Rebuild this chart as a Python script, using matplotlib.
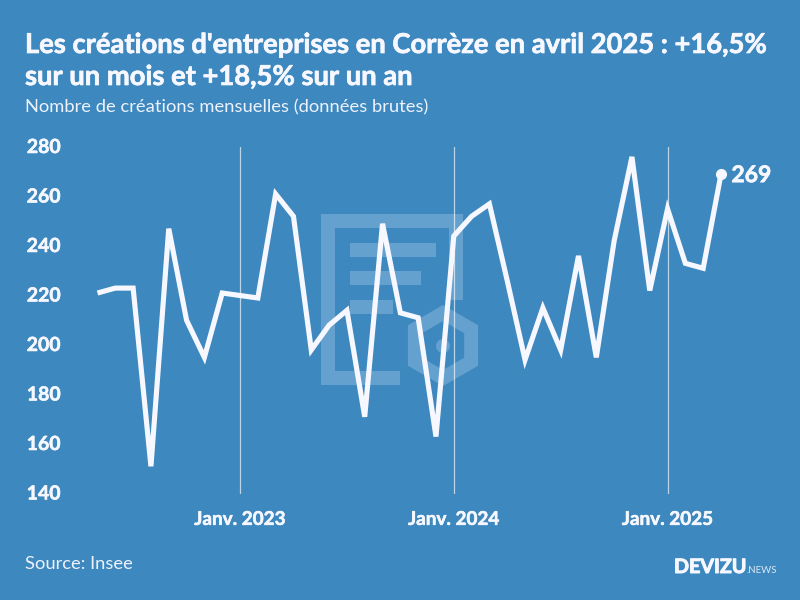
"""Créations d'entreprises en Corrèze, mai 2022 - avril 2025."""

import matplotlib

matplotlib.use("Agg")
import matplotlib.patheffects as pe
import matplotlib.pyplot as plt
from matplotlib.patches import Circle, Polygon, Rectangle
from matplotlib.transforms import ScaledTranslation
import numpy as np

BG = "#3D88BF"
WHITE = "#F7F8FF"
MARK = "#65A1CF"

plt.rcParams["font.family"] = ["Lato", "DejaVu Sans"]

# one value a month, May 2022 to April 2025
months = list(range(36))
creations = [221, 223, 223, 151, 247, 210, 195, 221, 220, 219, 261, 252,
             198, 208, 214, 171, 249, 213, 211, 163, 244, 252, 257, 226,
             194, 215, 198, 236, 195, 242, 276, 222, 255, 233, 231, 269]
jan_months = [8, 20, 32]
jan_labels = ["Janv. 2023", "Janv. 2024", "Janv. 2025"]
y_ticks = [140, 160, 180, 200, 220, 240, 260, 280]

W, H = 800, 600


def heavy(txt, lw=0.5):
    # Lato has no black weight here, so thicken the bold with a thin stroke
    txt.set_path_effects([pe.withStroke(linewidth=lw, foreground=WHITE)])
    return txt


def draw_watermark(bg):
    # faded logo behind the line, pixel coordinates
    for x, y, w, h in [(321, 214, 14, 171), (321, 214, 142, 14), (449, 214, 14, 86),
                       (321, 371, 79, 14), (350, 243, 86, 14), (350, 271, 71, 14),
                       (350, 300, 43, 14)]:
        bg.add_patch(Rectangle((x, y), w, h, fc=MARK, ec="none"))
    ang = np.radians(np.arange(30, 390, 60))
    hexa = np.column_stack([443 + 32.5 * np.cos(ang), 345.5 + 32.5 * np.sin(ang)])
    bg.add_patch(Polygon(hexa, closed=True, fc="none", ec=MARK, lw=10, joinstyle="miter"))
    bg.add_patch(Circle((443, 346), 7, fc=MARK, ec="none"))


def main():
    fig = plt.figure(figsize=(W / 100, H / 100), dpi=100, facecolor=BG)

    bg = fig.add_axes([0, 0, 1, 1])
    bg.set_xlim(0, W)
    bg.set_ylim(H, 0)
    bg.axis("off")
    draw_watermark(bg)

    left, right, top, bottom = 97.5, 721, 147, 493.5
    ax = fig.add_axes([left / W, 1 - bottom / H, (right - left) / W, (bottom - top) / H])
    ax.patch.set_visible(False)
    ax.set_xlim(0, 35)
    ax.set_ylim(140, 280)
    for s in ax.spines.values():
        s.set_visible(False)

    for m in jan_months:
        ax.axvline(m, color="white", lw=0.9, alpha=0.65, zorder=1)
    ax.plot(months, creations, color=WHITE, lw=3.7, solid_joinstyle="miter",
            solid_capstyle="butt", clip_on=False, zorder=3)
    ax.plot(months[-1], creations[-1], "o", ms=7, color=WHITE, clip_on=False, zorder=4)
    heavy(ax.annotate(str(creations[-1]), (months[-1], creations[-1]), xytext=(7.5, -1),
                      textcoords="offset points", va="center", ha="left", color=WHITE,
                      fontsize=16.5, fontweight="bold", annotation_clip=False))

    ax.set_yticks(y_ticks)
    ax.set_xticks(jan_months, jan_labels)
    ax.tick_params(axis="y", length=0, pad=26.5, labelsize=14, labelcolor=WHITE)
    ax.tick_params(axis="x", length=0, pad=12.5, labelsize=13.6, labelcolor=WHITE)
    up = ScaledTranslation(0, 1 / 100, fig.dpi_scale_trans)
    for lab in ax.get_yticklabels():
        lab.set_transform(lab.get_transform() + up)
    for lab in ax.get_yticklabels() + ax.get_xticklabels():
        lab.set_fontweight("bold")
        heavy(lab, 0.4)

    heavy(fig.text(25 / W, 1 - 53 / H, "Les créations d'entreprises en Corrèze en avril 2025 : +16,5%",
                   color=WHITE, fontsize=19.7, fontweight="bold", va="baseline"))
    heavy(fig.text(25 / W, 1 - 85 / H, "sur un mois et +18,5% sur un an",
                   color=WHITE, fontsize=19.7, fontweight="bold", va="baseline"))
    fig.text(25 / W, 1 - 112 / H, "Nombre de créations mensuelles (données brutes)",
             color=WHITE, fontsize=13.25, va="baseline", alpha=0.95)
    fig.text(25 / W, 1 - 569 / H, "Source: Insee", color=WHITE, fontsize=13.2, va="baseline", alpha=0.95)
    heavy(fig.text(674 / W, 1 - 573 / H, "DEVIZU", color=WHITE, fontsize=14.2,
                   fontweight="bold", va="baseline"), 0.7)
    fig.text(746 / W, 1 - 573 / H, ".NEWS", color=WHITE, fontsize=7, va="baseline", alpha=0.85)

    fig.savefig("out.png", dpi=100, facecolor=BG)
    plt.close(fig)


if __name__ == "__main__":
    main()
